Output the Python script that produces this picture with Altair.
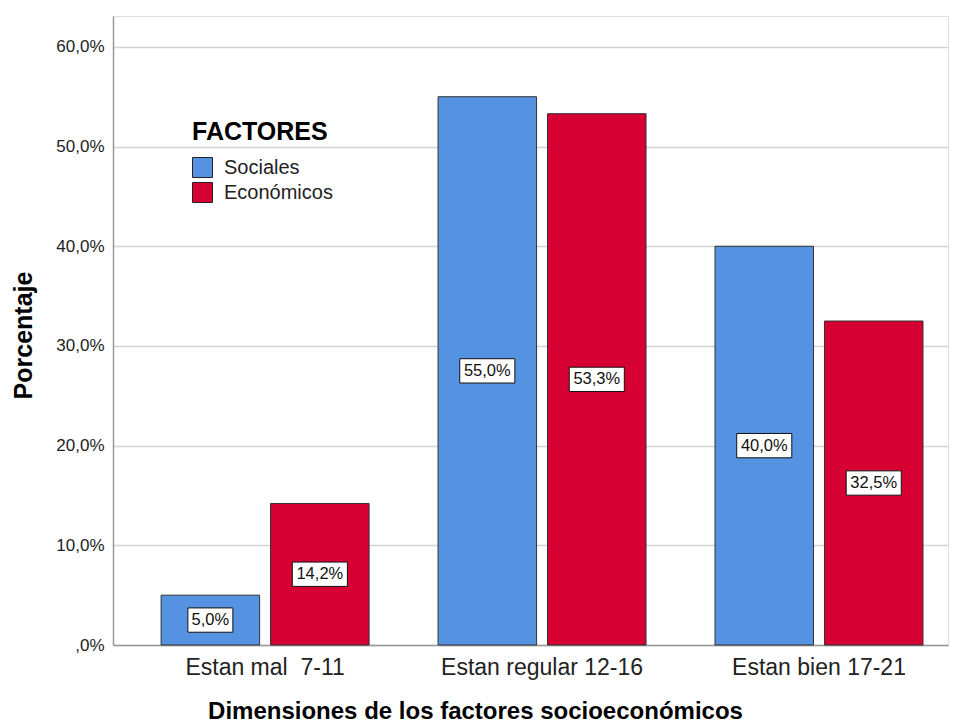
import altair as alt
import pandas as pd

categories = ["Estan mal \u00a07-11", "Estan regular 12-16", "Estan bien 17-21"]
factors = ["Sociales", "Económicos"]
sociales = [5.0, 55.0, 40.0]
economicos = [14.2, 53.3, 32.5]
y_ticks = [0, 10, 20, 30, 40, 50, 60]
colors = ["#5593E2", "#D60032"]

rows = []
for i, c in enumerate(categories):
    rows.append({"cat": c, "factor": factors[0], "value": sociales[i]})
    rows.append({"cat": c, "factor": factors[1], "value": economicos[i]})
df = pd.DataFrame(rows)
df["half"] = df["value"] / 2
df["label"] = df["value"].map(lambda v: f"{v:.1f}".replace(".", ",") + "%")
df["nch"] = df["label"].str.len().astype(str)

font = "Liberation Sans"

x_enc = alt.X(
    "cat:N",
    sort=categories,
    scale=alt.Scale(paddingInner=0.249, paddingOuter=0.132, align=0.658),
    axis=alt.Axis(
        title="Dimensiones de los factores socioeconómicos",
        labelAngle=0,
        ticks=False,
        labelPadding=11,
        labelFontSize=23,
        labelLimit=0,
        labelColor="#222222",
        labelFont=font,
        titleFont=font,
        titleFontSize=24,
        titleFontWeight="bold",
        titleColor="#000000",
        titleAnchor="middle",
        titleX=362,
        titleY=54,
        titleBaseline="top",
        domainColor="#999999",
        domainWidth=1.5,
    ),
)
xo_enc = alt.XOffset(
    "factor:N", sort=factors,
    scale=alt.Scale(paddingInner=0.1, paddingOuter=0),
)
y_scale = alt.Scale(domain=[0, 63.1], nice=False)
y_axis = alt.Axis(
    title="Porcentaje",
    values=y_ticks,
    labelExpr="datum.value == 0 ? ',0%' : replace(format(datum.value, '.1f'), '.', ',') + '%'",
    ticks=False,
    labelPadding=9,
    labelFontSize=17,
    labelColor="#222222",
    labelFont=font,
    titleFont=font,
    titleFontSize=25,
    titleFontWeight="bold",
    titleColor="#000000",
    titleX=-102,
    titleY=319,
    titleAnchor="middle",
    titleBaseline="top",
    grid=True,
    gridColor="#d4d4d4",
    gridWidth=1.5,
    domainColor="#999999",
    domainWidth=1.5,
)

base = alt.Chart(df)

bars = base.mark_bar(stroke="#333333", strokeWidth=1).encode(
    x=x_enc,
    xOffset=xo_enc,
    y=alt.Y("value:Q", scale=y_scale, axis=y_axis),
    color=alt.Color(
        "factor:N",
        sort=factors,
        scale=alt.Scale(domain=factors, range=colors),
        legend=alt.Legend(
            title="FACTORES",
            orient="none",
            legendX=79,
            legendY=104,
            symbolType="square",
            symbolSize=400,
            symbolStrokeColor="#222222",
            symbolStrokeWidth=1,
            symbolOpacity=1,
            labelFont=font,
            labelFontSize=20,
            labelColor="#222222",
            labelOffset=11,
            titleFont=font,
            titleFontSize=25,
            titleFontWeight="bold",
            titleColor="#000000",
            titlePadding=12,
            rowPadding=0,
            padding=0,
        ),
    ),
)

box4 = "M-0.833,-0.45L0.833,-0.45L0.833,0.45L-0.833,0.45Z"
box5 = "M-1.02,-0.45L1.02,-0.45L1.02,0.45L-1.02,0.45Z"

boxes = base.mark_point(filled=False, fill="white", fillOpacity=1, stroke="#111111",
                        strokeWidth=1, opacity=1, size=2916).encode(
    x=alt.X("cat:N", sort=categories),
    xOffset=alt.XOffset("factor:N", sort=factors),
    y=alt.Y("half:Q"),
    shape=alt.Shape("nch:N", scale=alt.Scale(domain=["4", "5"], range=[box4, box5]), legend=None),
)

texts = base.mark_text(font=font, fontSize=16.5, color="#111111", baseline="middle", align="center").encode(
    x=alt.X("cat:N", sort=categories),
    xOffset=alt.XOffset("factor:N", sort=factors),
    y=alt.Y("half:Q"),
    text="label:N",
)

chart = alt.layer(bars, boxes, texts).properties(
    width=835,
    height=629,
    padding={"left": 105, "top": 8, "right": 3, "bottom": 80},
    autosize=alt.AutoSizeParams(type="none"),
).configure_view(stroke=None).configure(background="white")

chart.save("out.html", embed_options={"renderer": "svg", "actions": False})
